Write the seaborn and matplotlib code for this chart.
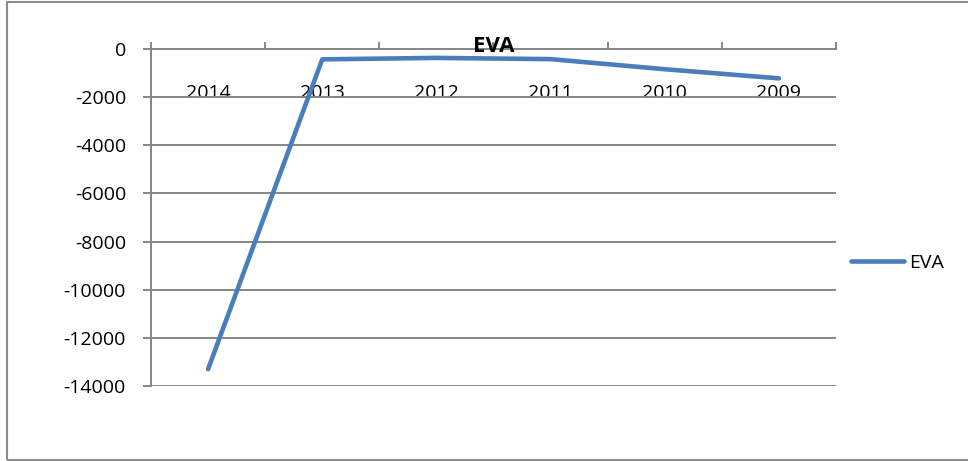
import matplotlib
matplotlib.use("Agg")
import matplotlib.pyplot as plt
from matplotlib.patches import Rectangle
import seaborn as sns
import pandas as pd
import numpy as np

years = ["2014", "2013", "2012", "2011", "2010", "2009"]
eva = [-13300, -430, -370, -420, -840, -1220]
y_ticks = [0, -2000, -4000, -6000, -8000, -10000, -12000, -14000]

sns.set_style("white")
plt.rcParams["font.family"] = ["Open Sans", "DejaVu Sans"]
plt.rcParams["text.color"] = "black"
plt.rcParams["xtick.labelcolor"] = "black"
plt.rcParams["ytick.labelcolor"] = "black"

grid_c = "#868686"
line_c = "#4A7EBB"

df = pd.DataFrame({"year": years, "EVA": eva})

fig = plt.figure(figsize=(9.68, 4.61), dpi=100)
ax = fig.add_axes([151 / 968, 1 - 386 / 461, (836 - 151) / 968, (386 - 49) / 461])

sns.lineplot(data=df, x="year", y="EVA", sort=False, ax=ax, color=line_c,
             linewidth=3.3, label="EVA", solid_capstyle="round",
             solid_joinstyle="round")

ax.set_xlim(-0.5, len(years) - 0.5)
ax.set_ylim(-14000, 0)
ax.set_yticks(y_ticks)
ax.set_yticklabels([str(v) for v in y_ticks])
ax.yaxis.grid(True, color=grid_c, linewidth=1.4)
ax.set_axisbelow(True)
ax.set_xlabel("")
ax.set_ylabel("")

for side in ["right", "bottom"]:
    ax.spines[side].set_visible(False)
for side in ["left", "top"]:
    ax.spines[side].set_color(grid_c)
    ax.spines[side].set_linewidth(1.4)

ax.tick_params(axis="y", direction="out", length=6, width=1.4, color=grid_c,
               labelsize=14, pad=12, left=True, labelcolor="black")

# category axis sits on the zero line: boundary ticks above, labels below it
ax.set_xticks(range(len(years)))
ax.set_xticklabels(years)
ax.set_xticks(np.arange(-0.5, len(years)), minor=True)
ax.tick_params(axis="x", which="major", bottom=False, top=False,
               labelbottom=False, labeltop=True, labelsize=14, pad=-42,
               labelcolor="black")
ax.tick_params(axis="x", which="minor", bottom=False, top=True,
               direction="out", length=5, width=1.4, color=grid_c)

ax.set_title("EVA", fontsize=16, fontweight="bold", y=0.991, pad=0,
             color="black")

leg = ax.legend(loc="center left", bbox_to_anchor=(851 / 968, 1 - 263 / 461),
                bbox_transform=fig.transFigure, frameon=False, fontsize=14,
                handlelength=2.7, handletextpad=0.3, borderpad=0,
                borderaxespad=0)
for t in leg.get_texts():
    t.set_color("black")

fig.patches.append(Rectangle((7 / 968, 1 / 461), 1.2, 1 - 3 / 461,
                             transform=fig.transFigure, fill=False,
                             edgecolor="#8c8c8c", linewidth=1.5))

fig.savefig("out.png", dpi=100)
